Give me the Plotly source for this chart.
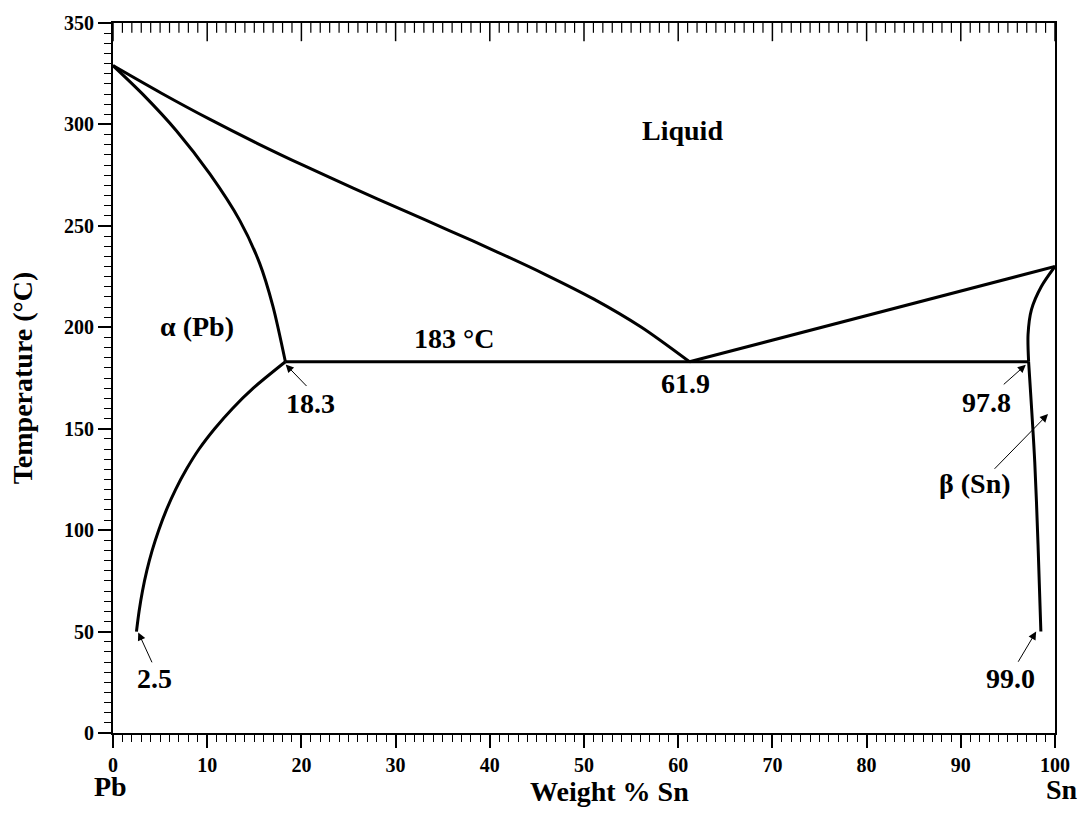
import plotly.graph_objects as go

# Liquidus (Pb side)
liq_left_x = [0, 5.1, 10.2, 15.3, 20.4, 25.5, 30.6, 35.7, 40.8, 45.9, 51.0, 56.1, 61.2]
liq_left_T = [329, 315.5, 302.7, 290.7, 279.4, 268.6, 258.1, 247.7, 237.1, 226.0, 214.0, 200.0, 183]
# Solidus (Pb side)
sol_left_x = [0, 3.2, 6.75, 10.28, 13.45, 15.57, 16.98, 18.3]
sol_left_T = [329, 314.7, 296.8, 275.6, 252.7, 231.5, 210.3, 183]
# Solvus (Pb side)
solv_left_x = [18.3, 14.89, 12.69, 10.79, 9.14, 7.79, 6.64, 5.67, 4.85, 4.16, 3.59, 3.13, 2.77, 2.49]
solv_left_T = [183, 170, 160, 150, 140, 130, 120, 110, 100, 90, 80, 70, 60, 50]
# Eutectic isotherm
eut_x = [18.3, 97.2]
eut_T = [183, 183]
# Liquidus (Sn side)
liq_right_x = [61.2, 100]
liq_right_T = [183, 230]
# Solidus (Sn side)
sol_right_x = [100, 98.55, 97.5, 97.14, 97.2]
sol_right_T = [230, 220.1, 208.7, 196.5, 183]
# Solvus (Sn side)
solv_right_x = [97.2, 97.85, 98.2, 98.5]
solv_right_T = [183, 133.6, 92.8, 50]

x_ticks = [0, 10, 20, 30, 40, 50, 60, 70, 80, 90, 100]
x_minor = [v for v in range(0, 101) if v not in x_ticks]
y_ticks = [0, 50, 100, 150, 200, 250, 300, 350]
y_top = 350

# text labels: (text, x, T)
region_labels = [
    ("Liquid", 60.5, 297.0),
    ("α (Pb)", 8.9, 200.5),
    ("183 °C", 36.2, 194.5),
    ("18.3", 21.0, 162.5),
    ("61.9", 60.8, 172.5),
    ("2.5", 4.4, 27.0),
    ("97.8", 92.7, 163.0),
    ("β (Sn)", 91.5, 123.0),
    ("99.0", 95.3, 27.0),
]
# arrows: (head x, head T, tail x, tail T)
arrows = [
    (2.68, 49.6, 4.21, 34.1),
    (18.33, 181.7, 20.7, 170.3),
    (96.9, 181.5, 94.4, 171.2),
    (99.26, 157.2, 93.43, 129.5),
    (98.0, 50.0, 96.0, 34.4),
]

FONT = "Liberation Serif"
fig = go.Figure()

for xs, ts, shape in [
    (liq_left_x, liq_left_T, "spline"),
    (sol_left_x, sol_left_T, "spline"),
    (solv_left_x, solv_left_T, "spline"),
    (eut_x, eut_T, "linear"),
    (liq_right_x, liq_right_T, "linear"),
    (sol_right_x, sol_right_T, "spline"),
    (solv_right_x, solv_right_T, "spline"),
]:
    fig.add_trace(go.Scatter(x=xs, y=ts, mode="lines",
                             line=dict(color="black", width=3, shape=shape, smoothing=0.8),
                             showlegend=False, hoverinfo="skip"))

# top-axis inward ticks: vertical tick symbols centred on the top edge, clipped to the plot
for vals, size, w in [(x_ticks, 26, 1.5), (x_minor, 14, 1.2)]:
    fig.add_trace(go.Scatter(x=vals, y=[y_top] * len(vals), mode="markers", cliponaxis=True,
                             marker=dict(symbol="line-ns", size=size,
                                         line=dict(color="black", width=w)),
                             showlegend=False, hoverinfo="skip"))

bold28 = dict(family=FONT, size=28, color="black", weight="bold")
annotations = []
for text, x, t in region_labels:
    annotations.append(dict(x=x, y=t, text=text, showarrow=False, font=bold28,
                            xanchor="center", yanchor="middle"))
for hx, ht, tx, tt in arrows:
    annotations.append(dict(x=hx, y=ht, ax=tx, ay=tt, axref="x", ayref="y",
                            text="", showarrow=True, arrowhead=2, arrowsize=1.6,
                            arrowwidth=1, arrowcolor="black"))
annotations.append(dict(x=0, y=-0.075, xref="x", yref="paper", text="Pb", showarrow=False,
                        font=bold28, xanchor="center", yanchor="middle", xshift=-3))
annotations.append(dict(x=100, y=-0.08, xref="x", yref="paper", text="Sn", showarrow=False,
                        font=bold28, xanchor="center", yanchor="middle", xshift=7))
annotations.append(dict(x=52.75, y=-0.082, xref="x", yref="paper", text="Weight % Sn",
                        showarrow=False, font=bold28, xanchor="center", yanchor="middle"))

shapes = [
    dict(type="line", xref="x", yref="y", x0=100, x1=100.65, y0=0, y1=0,
         line=dict(color="black", width=2)),
    dict(type="line", xref="x", yref="y", x0=0, x1=0, y0=350, y1=351.6,
         line=dict(color="black", width=2)),
]

tickfont = dict(family=FONT, size=20, color="black", weight="bold")
fig.update_layout(
    width=1082, height=818,
    margin=dict(l=113, r=25, t=18, b=85),
    paper_bgcolor="white", plot_bgcolor="white",
    annotations=annotations,
    shapes=shapes,
    xaxis=dict(range=[0, 100], tickvals=x_ticks, ticks="outside", ticklen=13, tickwidth=1.5,
               tickcolor="black", showline=True, linecolor="black", linewidth=2, mirror=True,
               showgrid=False, zeroline=False, tickfont=tickfont,
               minor=dict(dtick=1, ticks="outside", ticklen=7, tickwidth=1.2, tickcolor="black")),
    yaxis=dict(range=[0, 350], tickvals=y_ticks, ticks="outside", ticklen=13, tickwidth=1.5,
               tickcolor="black", showline=True, linecolor="black", linewidth=2, mirror=True,
               showgrid=False, zeroline=False, tickfont=tickfont,
               minor=dict(dtick=5, ticks="outside", ticklen=7, tickwidth=1.2, tickcolor="black"),
               title=dict(text="Temperature (°C)", font=bold28, standoff=23)),
)

fig.write_html("out.html", config={"displayModeBar": False},
               post_script="document.body.style.margin='0';")
